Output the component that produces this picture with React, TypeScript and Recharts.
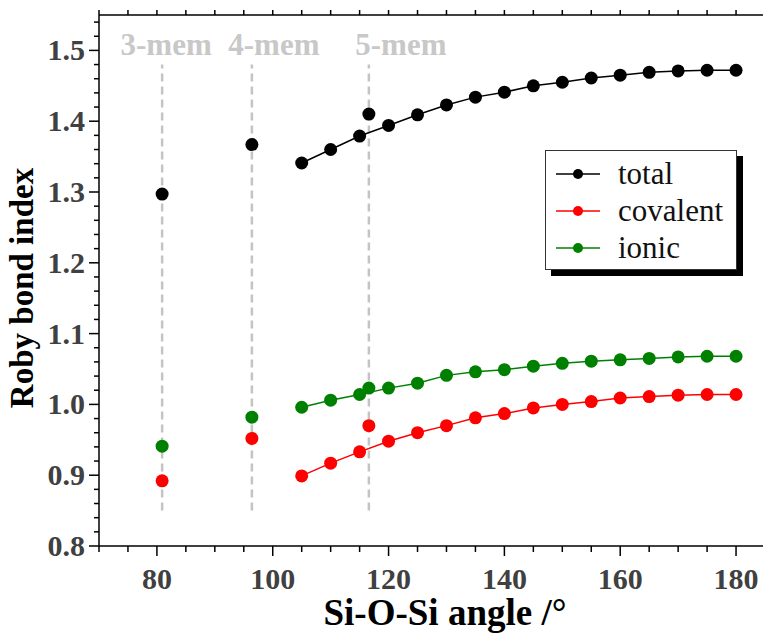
import { ScatterChart, Scatter, XAxis, YAxis, ReferenceLine, Legend } from 'recharts'

const angles = [105, 110, 115, 120, 125, 130, 135, 140, 145, 150, 155, 160, 165, 170, 175, 180]
const totalIndex = [1.341, 1.360, 1.379, 1.394, 1.409, 1.423, 1.434, 1.441, 1.450, 1.455, 1.461, 1.465, 1.469, 1.471, 1.472, 1.472]
const covalentIndex = [0.899, 0.917, 0.933, 0.948, 0.960, 0.970, 0.981, 0.987, 0.995, 1.000, 1.004, 1.009, 1.011, 1.013, 1.014, 1.014]
const ionicIndex = [0.996, 1.006, 1.014, 1.023, 1.030, 1.041, 1.046, 1.049, 1.054, 1.058, 1.061, 1.063, 1.065, 1.067, 1.068, 1.068]

const ringNames = ['3-mem', '4-mem', '5-mem']
const ringAngles = [80.9, 96.4, 116.6]
const ringTotal = [1.297, 1.367, 1.410]
const ringCovalent = [0.892, 0.952, 0.970]
const ringIonic = [0.941, 0.982, 1.023]

const seriesNames = ['total', 'covalent', 'ionic']
const seriesColors = ['#000000', '#ff0000', '#008000']

const xLabelTicks = [80, 100, 120, 140, 160, 180]
const yLabelTicks = [0.8, 0.9, 1.0, 1.1, 1.2, 1.3, 1.4, 1.5]

const X_DOMAIN = [70, 185]
const Y_DOMAIN = [0.8, 1.55]
const xTicks = Array.from({ length: 24 }, (_, i) => 70 + i * 5)
const yTicks = Array.from({ length: 38 }, (_, i) => Math.round((0.8 + i * 0.02) * 100) / 100)

const FONT = '"Liberation Serif", "Times New Roman", serif'

const toPoints = (xs: number[], ys: number[]) => xs.map((x, i) => ({ x, y: ys[i] }))
const curves = [totalIndex, covalentIndex, ionicIndex].map(ys => toPoints(angles, ys))
const rings = [ringTotal, ringCovalent, ringIonic].map(ys => toPoints(ringAngles, ys))

const isMajorY = (v: number) => yLabelTicks.some(t => Math.abs(t - v) < 1e-6)

function BottomTick(props: any) {
  const { x, y, payload } = props
  const major = xLabelTicks.includes(payload.value)
  return (
    <g>
      <line x1={x} x2={x} y1={y} y2={y + (major ? 10 : 6)} stroke="#000" strokeWidth={1.5} />
      {major && (
        <text x={x} y={y + 43} textAnchor="middle" fontFamily={FONT} fontWeight="bold" fontSize={30} fill="#404040">
          {payload.value}
        </text>
      )}
    </g>
  )
}

function TopTick(props: any) {
  const { x, y } = props
  return <line x1={x} x2={x} y1={y} y2={y - 5} stroke="#000" strokeWidth={1.5} />
}

function LeftTick(props: any) {
  const { x, y, payload } = props
  const major = isMajorY(payload.value)
  return (
    <g>
      <line x1={x} x2={x - (major ? 10 : 5)} y1={y} y2={y} stroke="#000" strokeWidth={1.5} />
      {major && (
        <text x={x - 14} y={y + 10} textAnchor="end" fontFamily={FONT} fontWeight="bold" fontSize={30} fill="#404040">
          {payload.value.toFixed(1)}
        </text>
      )}
    </g>
  )
}

const dot = (color: string) => (p: any) => <circle cx={p.cx} cy={p.cy} r={6.5} fill={color} />

function LegendBox() {
  return (
    <div
      style={{
        width: 192,
        height: 120,
        border: '1px solid #333',
        background: '#fff',
        boxShadow: '6px 6px 0 #000',
        paddingTop: 4,
        boxSizing: 'border-box',
      }}
    >
      {seriesNames.map((name, i) => (
        <div key={name} style={{ display: 'flex', alignItems: 'center', height: 37 }}>
          <svg width={64} height={20} style={{ marginLeft: 8 }}>
            <line x1={2} x2={46} y1={10} y2={10} stroke={seriesColors[i]} strokeWidth={1.5} />
            <circle cx={24} cy={10} r={5} fill={seriesColors[i]} />
          </svg>
          <span style={{ fontFamily: FONT, fontSize: 31, color: '#111', lineHeight: '31px' }}>{name}</span>
        </div>
      ))}
    </div>
  )
}

const labelDx = [4, 22, 32]

export default function App() {
  return (
    <div style={{ position: 'absolute', left: 0, top: 0, width: 763, height: 634, overflow: 'hidden', background: '#fff' }}>
      <ScatterChart width={770} height={634} margin={{ top: 14, right: 5, bottom: 87, left: 98 }}>
        <XAxis
          type="number"
          dataKey="x"
          domain={X_DOMAIN}
          ticks={xTicks}
          interval={0}
          height={1}
          tickSize={0}
          tickMargin={0}
          tickLine={false}
          tick={<BottomTick />}
          axisLine={{ stroke: '#000', strokeWidth: 1.5 }}
          allowDataOverflow
          label={(p: any) => (
            <text x={445} y={p.viewBox.y + 79} textAnchor="middle" fontFamily={FONT} fontWeight="bold" fontSize={37} fill="#000">
              Si-O-Si angle /°
            </text>
          )}
        />
        <XAxis
          xAxisId="top"
          orientation="top"
          type="number"
          dataKey="x"
          domain={X_DOMAIN}
          ticks={xTicks}
          interval={0}
          height={1}
          tickSize={0}
          tickMargin={0}
          tickLine={false}
          tick={<TopTick />}
          axisLine={{ stroke: '#000', strokeWidth: 1.5 }}
          allowDataOverflow
        />
        <YAxis
          type="number"
          dataKey="y"
          domain={Y_DOMAIN}
          ticks={yTicks}
          interval={0}
          width={1}
          tickSize={0}
          tickMargin={0}
          tickLine={false}
          tick={<LeftTick />}
          axisLine={{ stroke: '#000', strokeWidth: 1.5 }}
          allowDataOverflow
          label={() => (
            <text x={33} y={288} transform="rotate(-90 33 288)" textAnchor="middle" fontFamily={FONT} fontWeight="bold" fontSize={33} fill="#000">
              Roby bond index
            </text>
          )}
        />
        {ringAngles.map((a, i) => (
          <ReferenceLine
            key={ringNames[i]}
            segment={[{ x: a, y: 0.85 }, { x: a, y: 1.48 }]}
            stroke="#c4c4c4"
            strokeWidth={2.5}
            strokeDasharray="8 5"
            label={(p: any) => (
              <text x={p.viewBox.x + labelDx[i]} y={p.viewBox.y - 10} textAnchor="middle" fontFamily={FONT} fontWeight="bold" fontSize={31} fill="#c8c8c8">
                {ringNames[i]}
              </text>
            )}
          />
        ))}
        {curves.map((pts, i) => (
          <Scatter
            key={seriesNames[i]}
            name={seriesNames[i]}
            data={pts}
            fill={seriesColors[i]}
            line={{ stroke: seriesColors[i], strokeWidth: 1.5 }}
            shape={dot(seriesColors[i])}
            isAnimationActive={false}
          />
        ))}
        {rings.map((pts, i) => (
          <Scatter
            key={'ring-' + seriesNames[i]}
            name={'ring ' + seriesNames[i]}
            data={pts}
            fill={seriesColors[i]}
            shape={dot(seriesColors[i])}
            legendType="none"
            isAnimationActive={false}
          />
        ))}
        <Legend
          layout="vertical"
          align="center"
          verticalAlign="middle"
          wrapperStyle={{ left: 545, top: 150, width: 'auto' }}
          content={() => <LegendBox />}
        />
      </ScatterChart>
    </div>
  )
}
